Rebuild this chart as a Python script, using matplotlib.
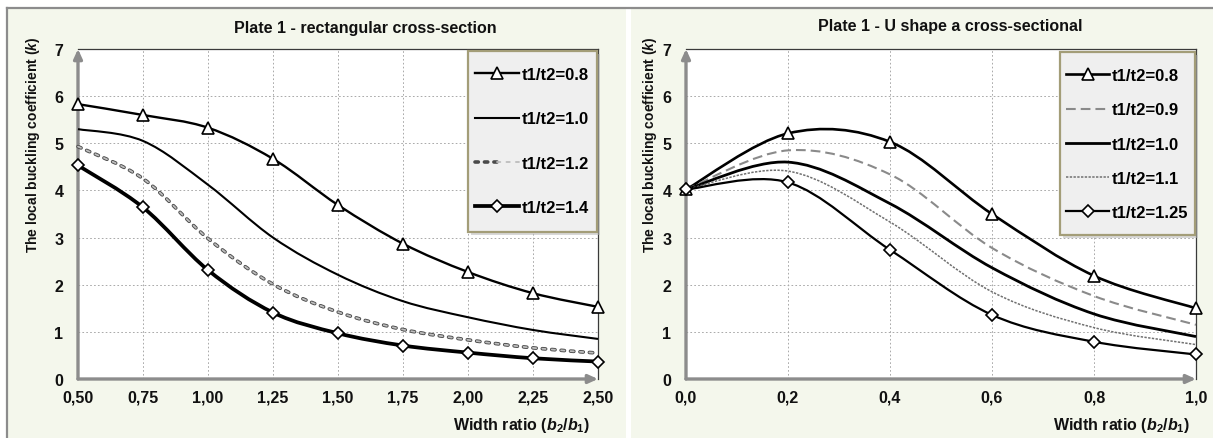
import matplotlib
matplotlib.use("Agg")
import matplotlib.pyplot as plt
from matplotlib.path import Path
from matplotlib.patches import PathPatch, Rectangle
from matplotlib.lines import Line2D
from matplotlib.legend_handler import HandlerTuple

# ---------------- data ----------------
# Plate 1 - rectangular cross-section
rect_x = [0.50, 0.75, 1.00, 1.25, 1.50, 1.75, 2.00, 2.25, 2.50]
rect_k_08 = [5.83, 5.60, 5.33, 4.67, 3.69, 2.87, 2.27, 1.82, 1.53]
rect_k_10 = [5.30, 5.05, 4.12, 3.00, 2.21, 1.65, 1.31, 1.04, 0.85]
rect_k_12 = [4.93, 4.25, 2.98, 2.01, 1.42, 1.05, 0.83, 0.66, 0.55]
rect_k_14 = [4.53, 3.64, 2.31, 1.41, 0.97, 0.71, 0.56, 0.44, 0.37]
rect_labels = ["t1/t2=0.8", "t1/t2=1.0", "t1/t2=1.2", "t1/t2=1.4"]
rect_xticks = [0.50, 0.75, 1.00, 1.25, 1.50, 1.75, 2.00, 2.25, 2.50]
rect_xticklabels = ["0,50", "0,75", "1,00", "1,25", "1,50", "1,75", "2,00", "2,25", "2,50"]

# Plate 1 - U shape cross-section
u_x = [0.0, 0.2, 0.4, 0.6, 0.8, 1.0]
u_k_08 = [4.02, 5.21, 5.03, 3.50, 2.19, 1.50]
u_k_09 = [4.02, 4.85, 4.34, 2.78, 1.76, 1.15]
u_k_10 = [4.02, 4.60, 3.72, 2.36, 1.38, 0.90]
u_k_11 = [4.02, 4.41, 3.33, 1.85, 1.09, 0.73]
u_k_125 = [4.02, 4.17, 2.74, 1.36, 0.79, 0.52]
u_labels = ["t1/t2=0.8", "t1/t2=0.9", "t1/t2=1.0", "t1/t2=1.1", "t1/t2=1.25"]
u_xticks = [0.0, 0.2, 0.4, 0.6, 0.8, 1.0]
u_xticklabels = ["0,0", "0,2", "0,4", "0,6", "0,8", "1,0"]

yticks = [0, 1, 2, 3, 4, 5, 6, 7]

# ---------------- style ----------------
plt.rcParams["font.family"] = ["Liberation Sans", "DejaVu Sans"]
plt.rcParams["font.weight"] = "bold"
plt.rcParams["mathtext.fontset"] = "custom"
plt.rcParams["mathtext.rm"] = "Liberation Sans:bold"
plt.rcParams["mathtext.it"] = "Liberation Sans:bold:italic"
plt.rcParams["mathtext.bf"] = "Liberation Sans:bold"
plt.rcParams["lines.scale_dashes"] = False

W, H = 1213, 439
BG = "#f4f7ec"
AXIS_GRAY = "#8c8c8c"
TXT = "#111111"

fig = plt.figure(figsize=(W / 100, H / 100), dpi=100)
fig.patch.set_facecolor("white")


def fx(px):
    return px / W


def fy(py):
    return 1 - py / H


# chart-area backgrounds and frame lines
fig.add_artist(Rectangle((fx(8), 0), fx(626) - fx(8), fy(10), transform=fig.transFigure,
                         facecolor=BG, edgecolor="none", zorder=0))
fig.add_artist(Rectangle((fx(631), 0), 1 - fx(631), fy(10), transform=fig.transFigure,
                         facecolor=BG, edgecolor="none", zorder=0))
fig.add_artist(Line2D([fx(7), 1], [fy(9), fy(9)], transform=fig.transFigure,
                      color=AXIS_GRAY, lw=1.6, zorder=1))
fig.add_artist(Line2D([fx(7), fx(7)], [0, fy(9)], transform=fig.transFigure,
                      color=AXIS_GRAY, lw=1.6, zorder=1))


def smooth_path(xs, ys):
    """Smoothed line through the points (Catmull-Rom style cubic Bezier segments)."""
    n = len(xs)
    verts = [(xs[0], ys[0])]
    codes = [Path.MOVETO]
    for i in range(n - 1):
        p0 = i - 1 if i > 0 else i
        p3 = i + 2 if i + 2 < n else i + 1
        c1 = (xs[i] + (xs[i + 1] - xs[p0]) / 6.0, ys[i] + (ys[i + 1] - ys[p0]) / 6.0)
        c2 = (xs[i + 1] - (xs[p3] - xs[i]) / 6.0, ys[i + 1] - (ys[p3] - ys[i]) / 6.0)
        verts += [c1, c2, (xs[i + 1], ys[i + 1])]
        codes += [Path.CURVE4] * 3
    return Path(verts, codes)


def draw_curve(ax, xs, ys, color, lw, ls="-", z=3, cap="butt"):
    patch = PathPatch(smooth_path(xs, ys), facecolor="none", edgecolor=color, lw=lw,
                      linestyle=ls, capstyle=cap, joinstyle="round", clip_on=False, zorder=z)
    ax.add_patch(patch)


def draw_markers(ax, xs, ys, marker, ms, z=3.5):
    ax.plot(xs, ys, linestyle="none", marker=marker, ms=ms, mfc="white", mec="black",
            mew=1.2, clip_on=False, zorder=z)


def style_axes(ax, xlim, xticks, xticklabels):
    ax.set_facecolor("white")
    ax.set_xlim(*xlim)
    ax.set_ylim(0, 7)
    ax.set_xticks(xticks)
    ax.set_xticklabels(xticklabels)
    ax.set_yticks(yticks)
    ax.set_yticklabels([str(v) for v in yticks])
    ax.tick_params(axis="x", length=0, pad=7.5, labelsize=11.5, labelcolor=TXT)
    ax.tick_params(axis="y", length=0, pad=10.5, labelsize=11.5, labelcolor=TXT)
    for lab in ax.get_xticklabels() + ax.get_yticklabels():
        lab.set_fontweight("bold")
    ax.grid(True, color="#a9a9a9", lw=0.7, linestyle=(0, (1.2, 1.6)))
    ax.set_axisbelow(True)
    for side in ("left", "bottom"):
        ax.spines[side].set_visible(False)
    for side in ("top", "right"):
        ax.spines[side].set_color("#3a3a3a")
        ax.spines[side].set_linewidth(0.9)
    arrow = dict(arrowstyle="-|>,head_length=0.55,head_width=0.25", color=AXIS_GRAY,
                 lw=2.4, shrinkA=0, shrinkB=0)
    ax.annotate("", xy=(0, 1.0), xytext=(0, 0), xycoords="axes fraction",
                arrowprops=arrow, annotation_clip=False, zorder=2.5)
    ax.annotate("", xy=(1.0, 0), xytext=(0, 0), xycoords="axes fraction",
                arrowprops=arrow, annotation_clip=False, zorder=2.5)


def legend_box(ax, x0, y0, x1, y1):
    shadow = Rectangle((fx(x0 + 3), fy(y1 + 3)), fx(x1) - fx(x0), fy(y0) - fy(y1),
                       transform=fig.transFigure, facecolor="#b9b9b9", edgecolor="none",
                       alpha=0.55, zorder=4, clip_on=False)
    frame = Rectangle((fx(x0), fy(y1)), fx(x1) - fx(x0), fy(y0) - fy(y1),
                      transform=fig.transFigure, facecolor="#efefef", edgecolor="#a39d78",
                      lw=1.6, zorder=4.2, clip_on=False)
    ax.add_artist(shadow)
    ax.add_artist(frame)


# ---------------- left: rectangular cross-section ----------------
ax1 = fig.add_axes([fx(78), fy(380), fx(598) - fx(78), fy(50) - fy(380)])
style_axes(ax1, (0.5, 2.5), rect_xticks, rect_xticklabels)

draw_curve(ax1, rect_x, rect_k_08, "black", 1.7)
draw_markers(ax1, rect_x, rect_k_08, "^", 9)
draw_curve(ax1, rect_x, rect_k_10, "black", 1.5)
dash12 = (0, (2.4, 4.4))
draw_curve(ax1, rect_x, rect_k_12, "#4a4a4a", 2.6, ls=dash12, cap="round")
draw_curve(ax1, rect_x, rect_k_12, "#bdbdbd", 1.3, ls=dash12, cap="round", z=3.1)
draw_curve(ax1, rect_x, rect_k_14, "black", 2.7)
draw_markers(ax1, rect_x, rect_k_14, "D", 6.5)

legend_box(ax1, 468, 52, 597, 233)
h08 = Line2D([], [], color="black", lw=1.7, marker="^", ms=8, mfc="white", mec="black", mew=1.2)
h10 = Line2D([], [], color="black", lw=1.5)
h12 = (Line2D([], [], color="#4a4a4a", lw=2.6, ls=dash12, dash_capstyle="round"),
       Line2D([], [], color="#bdbdbd", lw=1.3, ls=dash12, dash_capstyle="round"))
h14 = Line2D([], [], color="black", lw=2.7, marker="D", ms=6, mfc="white", mec="black", mew=1.2)
leg1 = ax1.legend([h08, h10, h12, h14], rect_labels, loc="center",
                  bbox_to_anchor=(fx(532), fy(142)), bbox_transform=fig.transFigure,
                  frameon=False, prop={"size": 12, "weight": "bold"},
                  handlelength=2.6, handletextpad=0.15, labelspacing=1.75, borderpad=0,
                  numpoints=1, handler_map={tuple: HandlerTuple(ndivide=None, pad=0)})
leg1.set_zorder(5)

# ---------------- right: U shape cross-section ----------------
ax2 = fig.add_axes([fx(686), fy(380), fx(1196) - fx(686), fy(50) - fy(380)])
style_axes(ax2, (0.0, 1.0), u_xticks, u_xticklabels)

dash09 = (0, (7.0, 3.6))
dash11 = (0, (1.7, 1.0))
draw_curve(ax2, u_x, u_k_08, "black", 1.9)
draw_markers(ax2, u_x, u_k_08, "^", 9)
draw_curve(ax2, u_x, u_k_09, "#8a8a8a", 1.5, ls=dash09)
draw_curve(ax2, u_x, u_k_10, "black", 2.0)
draw_curve(ax2, u_x, u_k_11, "#707070", 1.1, ls=dash11)
draw_curve(ax2, u_x, u_k_125, "black", 1.6)
draw_markers(ax2, u_x, u_k_125, "D", 6.5)

legend_box(ax2, 1060, 53, 1195, 236)
g08 = Line2D([], [], color="black", lw=1.9, marker="^", ms=8, mfc="white", mec="black", mew=1.2)
g09 = Line2D([], [], color="#8a8a8a", lw=1.5, ls=dash09)
g10 = Line2D([], [], color="black", lw=2.0)
g11 = Line2D([], [], color="#707070", lw=1.1, ls=dash11)
g125 = Line2D([], [], color="black", lw=1.6, marker="D", ms=6, mfc="white", mec="black", mew=1.2)
leg2 = ax2.legend([g08, g09, g10, g11, g125], u_labels, loc="center",
                  bbox_to_anchor=(fx(1127), fy(145)), bbox_transform=fig.transFigure,
                  frameon=False, prop={"size": 12, "weight": "bold"},
                  handlelength=2.6, handletextpad=0.15, labelspacing=1.15, borderpad=0,
                  numpoints=1)
leg2.set_zorder(5)

# ---------------- titles and axis labels ----------------
fig.text(fx(365), fy(28), "Plate 1 - rectangular cross-section", ha="center", va="center",
         fontsize=11.5, fontweight="bold", color=TXT)
fig.text(fx(950), fy(27), "Plate 1 - U shape a cross-sectional", ha="center", va="center",
         fontsize=11.5, fontweight="bold", color=TXT)

ylab = r"The local buckling coefficient ($k$)"
fig.text(fx(33), fy(145), ylab, rotation=90, ha="center", va="center",
         fontsize=10, fontweight="bold", color=TXT)
fig.text(fx(650), fy(145), ylab, rotation=90, ha="center", va="center",
         fontsize=10, fontweight="bold", color=TXT)

xlab = r"Width ratio ($b_2/b_1$)"
fig.text(fx(590), fy(426), xlab, ha="right", va="center", fontsize=11.5,
         fontweight="bold", color=TXT)
fig.text(fx(1190), fy(426), xlab, ha="right", va="center", fontsize=11.5,
         fontweight="bold", color=TXT)

fig.savefig("out.png", dpi=100, facecolor=fig.get_facecolor())
